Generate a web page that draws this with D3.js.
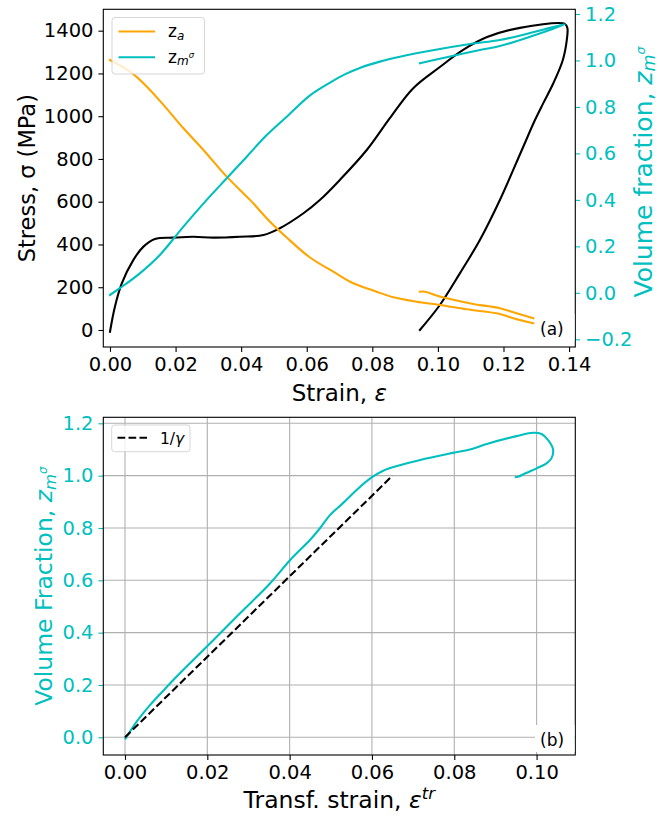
<!DOCTYPE html>
<html>
<head>
<meta charset="utf-8">
<script src="https://cdn.jsdelivr.net/npm/d3@7"></script>
<style>
  body { margin: 0; background: #fff; }
  svg { display: block; }
  text { font-family: "DejaVu Sans", sans-serif; }
</style>
</head>
<body>
<svg id="fig" width="659" height="816"></svg>
<script>
// ---- (a) stress–strain response, loading then unloading ----
const strainA = [0, 0.0015, 0.0036, 0.0071, 0.0102, 0.0137, 0.0193, 0.0254, 0.0315, 0.0396, 0.0468,
  0.0518, 0.059, 0.064, 0.0701, 0.0783, 0.0854, 0.0924, 0.1006, 0.1077, 0.115, 0.125, 0.1388,
  0.1395, 0.1393, 0.1381, 0.1352, 0.1321, 0.1296, 0.1256, 0.1189, 0.1128, 0.1067, 0.1006, 0.0945];
const stressA = [-8, 109, 218, 327, 390, 426, 432, 436, 432, 436, 444,
  476, 546, 608, 702, 842, 992, 1130, 1230, 1310, 1370, 1413, 1431,
  1411, 1356, 1263, 1154, 1060, 982, 842, 608, 421, 265, 117, 0];

// austenite fraction z_a
const strainZaLoad = [0, 0.0061, 0.0102, 0.0163, 0.0224, 0.0285, 0.0356, 0.0427, 0.0488, 0.0539,
  0.061, 0.0681, 0.0742, 0.0813, 0.0864, 0.0935, 0.1006, 0.1088, 0.1189, 0.123, 0.1291];
const zaLoad = [1.002, 0.952, 0.902, 0.809, 0.708, 0.615, 0.5, 0.40, 0.306, 0.238,
  0.152, 0.091, 0.041, 0.005, -0.019, -0.038, -0.052, -0.071, -0.091, -0.109, -0.131];
const strainZaUnload = [0.0945, 0.0961, 0.1006, 0.1108, 0.1189, 0.124, 0.1291];
const zaUnload = [0.005, 0.005, -0.016, -0.048, -0.066, -0.088, -0.109];

// stress-induced martensite fraction z_m^sigma
const strainZm = [0, 0.003, 0.0091, 0.0152, 0.0224, 0.0295, 0.0356, 0.0417, 0.0478, 0.0539, 0.061,
  0.0671, 0.0716, 0.0762, 0.0823, 0.0884, 0.0976, 0.1098, 0.1189, 0.1281, 0.1388,
  0.1281, 0.1189, 0.1128, 0.1027, 0.0945];
const zmA = [-0.009, 0.02, 0.084, 0.163, 0.285, 0.40, 0.493, 0.586, 0.679, 0.758, 0.850,
  0.905, 0.940, 0.968, 0.995, 1.016, 1.042, 1.071, 1.088, 1.118, 1.157,
  1.102, 1.062, 1.045, 1.014, 0.988];

// ---- (b) martensite fraction vs transformation strain ----
const trStrain = [0, 0.00284, 0.00607, 0.0093, 0.01256, 0.01579, 0.01984, 0.02307, 0.02873, 0.03522,
  0.04008, 0.04494, 0.04737, 0.04979, 0.05302, 0.05667, 0.05992, 0.06274, 0.0668, 0.0717, 0.0797,
  0.0838, 0.0879, 0.0951, 0.0992, 0.1012, 0.1028, 0.1040, 0.1036, 0.1024, 0.1000, 0.0976, 0.0955, 0.0947];
const zmB = [-0.008, 0.060, 0.123, 0.178, 0.232, 0.283, 0.346, 0.397, 0.486, 0.588,
  0.677, 0.754, 0.799, 0.849, 0.896, 0.951, 0.993, 1.019, 1.040, 1.060, 1.087,
  1.100, 1.121, 1.151, 1.164, 1.159, 1.136, 1.100, 1.066, 1.047, 1.028, 1.011, 0.996, 0.994];
const gammaStrain = [0, 0.065];
const gammaZ = [0, 1.0];

// tick values
const strainTicksA = [0, 0.02, 0.04, 0.06, 0.08, 0.10, 0.12, 0.14];
const stressTicks = [0, 200, 400, 600, 800, 1000, 1200, 1400];
const fracTicksA = [-0.2, 0, 0.2, 0.4, 0.6, 0.8, 1.0, 1.2];
const strainTicksB = [0, 0.02, 0.04, 0.06, 0.08, 0.10];
const fracTicksB = [0, 0.2, 0.4, 0.6, 0.8, 1.0, 1.2];

const ORANGE = "#ffa500", CYAN = "#00bfbf", GRID = "#b0b0b0";
const LW = 2.1, TICK = 4.9, PAD = 4.9, TICKFS = "19.5px";

const svg = d3.select("#fig");
const zip = (xs, ys) => xs.map((x, i) => [x, ys[i]]);

// ---------------- panel (a) ----------------
const A = { l: 103.3, r: 575.3, t: 9.3, b: 347 };
const xA = d3.scaleLinear().domain([-0.00204, 0.1419]).range([A.l, A.r]);
const yS = d3.scaleLinear().domain([-79.5, 1500]).range([A.b, A.t]);
const yF = d3.scaleLinear().domain([-0.2331, 1.2202]).range([A.b, A.t]);

const gA = svg.append("g");
const clipA = svg.append("clipPath").attr("id", "clipA");
clipA.append("rect").attr("x", A.l).attr("y", A.t).attr("width", A.r - A.l).attr("height", A.b - A.t);

const lineS = d3.line().x(d => xA(d[0])).y(d => yS(d[1])).curve(d3.curveCatmullRom.alpha(0.5));
const lineF = d3.line().x(d => xA(d[0])).y(d => yF(d[1])).curve(d3.curveCatmullRom.alpha(0.5));

const curvesA = gA.append("g").attr("clip-path", "url(#clipA)").attr("fill", "none")
  .attr("stroke-width", LW).attr("stroke-linejoin", "round").attr("stroke-linecap", "square");
curvesA.append("path").datum(zip(strainA, stressA)).attr("d", lineS).attr("stroke", "#000");
curvesA.append("path").datum(zip(strainZaLoad, zaLoad)).attr("d", lineF).attr("stroke", ORANGE);
curvesA.append("path").datum(zip(strainZaUnload, zaUnload)).attr("d", lineF).attr("stroke", ORANGE);
curvesA.append("path").datum(zip(strainZm, zmA)).attr("d", lineF).attr("stroke", CYAN);

function styleAxis(g, color) {
  g.select(".domain").remove();
  g.selectAll(".tick line").attr("stroke", color).attr("stroke-width", 1.1);
  g.selectAll(".tick text").attr("fill", color).style("font-size", TICKFS)
    .style("font-family", '"DejaVu Sans", sans-serif');
}

gA.append("g").attr("transform", `translate(0,${A.b})`)
  .call(d3.axisBottom(xA).tickValues(strainTicksA).tickFormat(d3.format(".2f")).tickSize(TICK).tickPadding(PAD))
  .call(g => styleAxis(g, "#000"));
gA.append("g").attr("transform", `translate(${A.l},0)`)
  .call(d3.axisLeft(yS).tickValues(stressTicks).tickFormat(d3.format("d")).tickSize(TICK).tickPadding(PAD))
  .call(g => styleAxis(g, "#000"));
gA.append("g").attr("transform", `translate(${A.r},0)`)
  .call(d3.axisRight(yF).tickValues(fracTicksA).tickFormat(d3.format(".1f")).tickSize(TICK).tickPadding(PAD))
  .call(g => styleAxis(g, CYAN));

gA.append("rect").attr("x", A.l).attr("y", A.t).attr("width", A.r - A.l).attr("height", A.b - A.t)
  .attr("fill", "none").attr("stroke", "#000").attr("stroke-width", 1.1);

// axis titles
const xTitleA = gA.append("text").attr("x", (A.l + A.r) / 2).attr("y", 401)
  .attr("text-anchor", "middle").style("font-size", "23px").attr("fill", "#000");
xTitleA.append("tspan").text("Strain, ");
xTitleA.append("tspan").attr("font-style", "italic").text("ε");

gA.append("text").attr("transform", `translate(34.5,${(A.t + A.b) / 2}) rotate(-90)`)
  .attr("text-anchor", "middle").style("font-size", "22.5px").attr("fill", "#000")
  .text("Stress, σ (MPa)");

function zmLabel(sel, size, drop) {
  sel.append("tspan").attr("font-style", "italic").text("z");
  sel.append("tspan").attr("font-style", "italic").style("font-size", (size * 0.7) + "px")
    .attr("dy", size * drop).text("m");
  sel.append("tspan").attr("font-style", "italic").style("font-size", (size * 0.5) + "px")
    .attr("dy", -size * 0.4).text("σ");
}

const yTitleR = gA.append("text").attr("transform", `translate(652,172) rotate(-90)`)
  .attr("text-anchor", "middle").style("font-size", "25px").attr("fill", CYAN);
yTitleR.append("tspan").text("Volume fraction, ");
zmLabel(yTitleR, 25, 0.1);

// legend (a)
const legA = gA.append("g");
legA.append("rect").attr("x", 112).attr("y", 17.5).attr("width", 92.5).attr("height", 56.5)
  .attr("rx", 3).attr("fill", "#fff").attr("fill-opacity", 0.8)
  .attr("stroke", "#cccccc").attr("stroke-opacity", 0.8).attr("stroke-width", 1);
legA.append("line").attr("x1", 118.5).attr("x2", 155).attr("y1", 31.5).attr("y2", 31.5)
  .attr("stroke", ORANGE).attr("stroke-width", LW);
legA.append("line").attr("x1", 118.5).attr("x2", 155).attr("y1", 57.3).attr("y2", 57.3)
  .attr("stroke", CYAN).attr("stroke-width", LW);
const legTxt1 = legA.append("text").attr("x", 168).attr("y", 37).style("font-size", "17px").attr("fill", "#000");
legTxt1.append("tspan").text("z");
legTxt1.append("tspan").attr("font-style", "italic").style("font-size", "12px").attr("dy", 3).text("a");
const legTxt2 = legA.append("text").attr("x", 168).attr("y", 63).style("font-size", "17px").attr("fill", "#000");
legTxt2.append("tspan").text("z");
legTxt2.append("tspan").attr("font-style", "italic").style("font-size", "12px").attr("dy", 2).text("m");
legTxt2.append("tspan").attr("font-style", "italic").style("font-size", "8.5px").attr("dy", -7).text("σ");

// panel tag (a)
gA.append("rect").attr("x", 535).attr("y", 314).attr("width", 39.5).attr("height", 27).attr("fill", "#fff");
gA.append("text").attr("x", 540).attr("y", 335).style("font-size", "17px").attr("fill", "#000").text("(a)");

// ---------------- panel (b) ----------------
const B = { l: 103.3, r: 575.3, t: 417.3, b: 755 };
const xB = d3.scaleLinear().domain([-0.00527, 0.1094]).range([B.l, B.r]);
const yB = d3.scaleLinear().domain([-0.0676, 1.223]).range([B.b, B.t]);

const gB = svg.append("g");
const clipB = svg.append("clipPath").attr("id", "clipB");
clipB.append("rect").attr("x", B.l).attr("y", B.t).attr("width", B.r - B.l).attr("height", B.b - B.t);

// grid
const grid = gB.append("g").attr("stroke", GRID).attr("stroke-width", 1.1);
grid.selectAll("line.gx").data(strainTicksB).join("line").attr("class", "gx")
  .attr("x1", d => xB(d)).attr("x2", d => xB(d)).attr("y1", B.t).attr("y2", B.b);
grid.selectAll("line.gy").data(fracTicksB).join("line").attr("class", "gy")
  .attr("x1", B.l).attr("x2", B.r).attr("y1", d => yB(d)).attr("y2", d => yB(d));

const lineB = d3.line().x(d => xB(d[0])).y(d => yB(d[1])).curve(d3.curveCatmullRom.alpha(0.5));
const curvesB = gB.append("g").attr("clip-path", "url(#clipB)").attr("fill", "none")
  .attr("stroke-width", LW).attr("stroke-linejoin", "round");
curvesB.append("path").datum(zip(trStrain, zmB)).attr("d", lineB).attr("stroke", CYAN);
curvesB.append("path").datum(zip(gammaStrain, gammaZ)).attr("d", d3.line().x(d => xB(d[0])).y(d => yB(d[1])))
  .attr("stroke", "#000").attr("stroke-dasharray", "7.7,3.3");

gB.append("g").attr("transform", `translate(0,${B.b})`)
  .call(d3.axisBottom(xB).tickValues(strainTicksB).tickFormat(d3.format(".2f")).tickSize(TICK).tickPadding(PAD))
  .call(g => styleAxis(g, "#000"));
gB.append("g").attr("transform", `translate(${B.l},0)`)
  .call(d3.axisLeft(yB).tickValues(fracTicksB).tickFormat(d3.format(".1f")).tickSize(TICK).tickPadding(PAD))
  .call(g => styleAxis(g, CYAN));

gB.append("rect").attr("x", B.l).attr("y", B.t).attr("width", B.r - B.l).attr("height", B.b - B.t)
  .attr("fill", "none").attr("stroke", "#000").attr("stroke-width", 1.1);

const xTitleB = gB.append("text").attr("x", (B.l + B.r) / 2).attr("y", 808)
  .attr("text-anchor", "middle").style("font-size", "23.5px").attr("fill", "#000");
xTitleB.append("tspan").text("Transf. strain, ");
xTitleB.append("tspan").attr("font-style", "italic").text("ε");
xTitleB.append("tspan").attr("font-style", "italic").style("font-size", "16.5px").attr("dy", -9).text("tr");

const yTitleB = gB.append("text").attr("transform", `translate(52,${(B.t + B.b) / 2}) rotate(-90)`)
  .attr("text-anchor", "middle").style("font-size", "23.5px").attr("fill", CYAN);
yTitleB.append("tspan").text("Volume Fraction, ");
zmLabel(yTitleB, 23.5, 0.18);

// legend (b)
const legB = gB.append("g");
legB.append("rect").attr("x", 111.7).attr("y", 425).attr("width", 78.3).attr("height", 26.7)
  .attr("rx", 3).attr("fill", "#fff").attr("fill-opacity", 0.8)
  .attr("stroke", "#cccccc").attr("stroke-opacity", 0.8).attr("stroke-width", 1);
legB.append("line").attr("x1", 117.5).attr("x2", 147).attr("y1", 437.7).attr("y2", 437.7)
  .attr("stroke", "#000").attr("stroke-width", LW).attr("stroke-dasharray", "7.7,3.3");
const legTxtB = legB.append("text").attr("x", 160).attr("y", 443.5).style("font-size", "15.5px").attr("fill", "#000");
legTxtB.append("tspan").text("1/");
legTxtB.append("tspan").attr("font-style", "italic").text("γ");

// panel tag (b)
gB.append("rect").attr("x", 535).attr("y", 725).attr("width", 39.5).attr("height", 27).attr("fill", "#fff");
gB.append("text").attr("x", 540).attr("y", 746).style("font-size", "17px").attr("fill", "#000").text("(b)");
</script>
</body>
</html>
